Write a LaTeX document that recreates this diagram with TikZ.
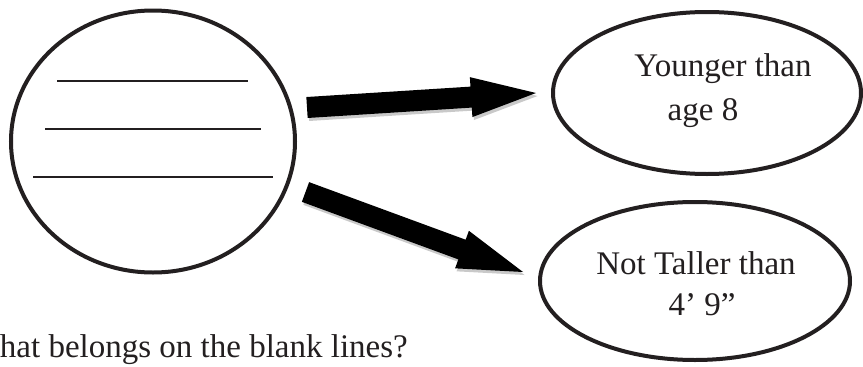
\documentclass[tikz,border=0pt]{standalone}
\usepackage{fontspec}
\setmainfont{Liberation Serif}
\usetikzlibrary{calc,shapes.geometric}
\definecolor{ink}{HTML}{231F20}
\newcommand\fatarr[3]{%
  \coordinate (hb) at ($(#2)!65pt!(#1)$);
  \fill[#3] ($(#1)!10.5pt!90:(#2)$) -- ($(hb)!10.5pt!90:(#2)$) -- ($(hb)!20pt!90:(#2)$)
    -- (#2) -- ($(hb)!20pt!-90:(#2)$) -- ($(hb)!10.5pt!-90:(#2)$) -- ($(#1)!10.5pt!-90:(#2)$) -- cycle;}
\begin{document}
\begin{tikzpicture}[x=1pt,y=-1pt,
  bubble/.style={draw=ink, line width=4pt, ellipse, inner sep=0pt},
  blankline/.style={draw=ink, line width=2.6pt},
  lbl/.style={inner sep=0pt, text=ink, font=\fontsize{33}{39}\selectfont},
  arrowfill/.style={fill=black},
  shadowfill/.style={fill=black!35, opacity=0.6}]
\useasboundingbox (0,0) rectangle (863,367);
\clip (0,0) rectangle (863,367);
\fill[white] (0,0) rectangle (863,367);
% ellipses
\node[bubble, minimum width=284pt, minimum height=262pt] (blank) at (153,141.5) {};
\node[bubble, minimum width=308pt, minimum height=162pt] (young) at (707,93) {};
\node[bubble, minimum width=310pt, minimum height=158pt] (tall) at (695,281) {};
% blank lines
\draw[blankline] (57,81) -- (248,81);
\draw[blankline] (45,129) -- (261,129);
\draw[blankline] (33,177) -- (273,177);
% arrow end points
\coordinate (t1) at ($(blank.east)+(10,-34)$);
\coordinate (h1) at ($(young.west)+(-15,0)$);
\coordinate (t2) at ($(blank.east)+(8.5,50.5)$);
\coordinate (h2) at ($(tall.west)+(-15,-9)$);
\begin{scope}[transform canvas={xshift=1.5pt,yshift=-3pt}]
  \fatarr{t1}{h1}{shadowfill}
  \fatarr{t2}{h2}{shadowfill}
\end{scope}
\fatarr{t1}{h1}{arrowfill}
\fatarr{t2}{h2}{arrowfill}
% texts
\node[lbl, anchor=base] (y1) at (723,76) {Younger than};
\node[lbl, anchor=base] (y2) at (703,120) {age 8};
\node[lbl, anchor=base] (n1) at (696,274) {Not Taller than};
\node[lbl, anchor=base] (n2) at (702,315) {4’ 9”};
\node[lbl, anchor=base east] (q) at (408,357) {What belongs on the blank lines?};
\end{tikzpicture}
\end{document}
